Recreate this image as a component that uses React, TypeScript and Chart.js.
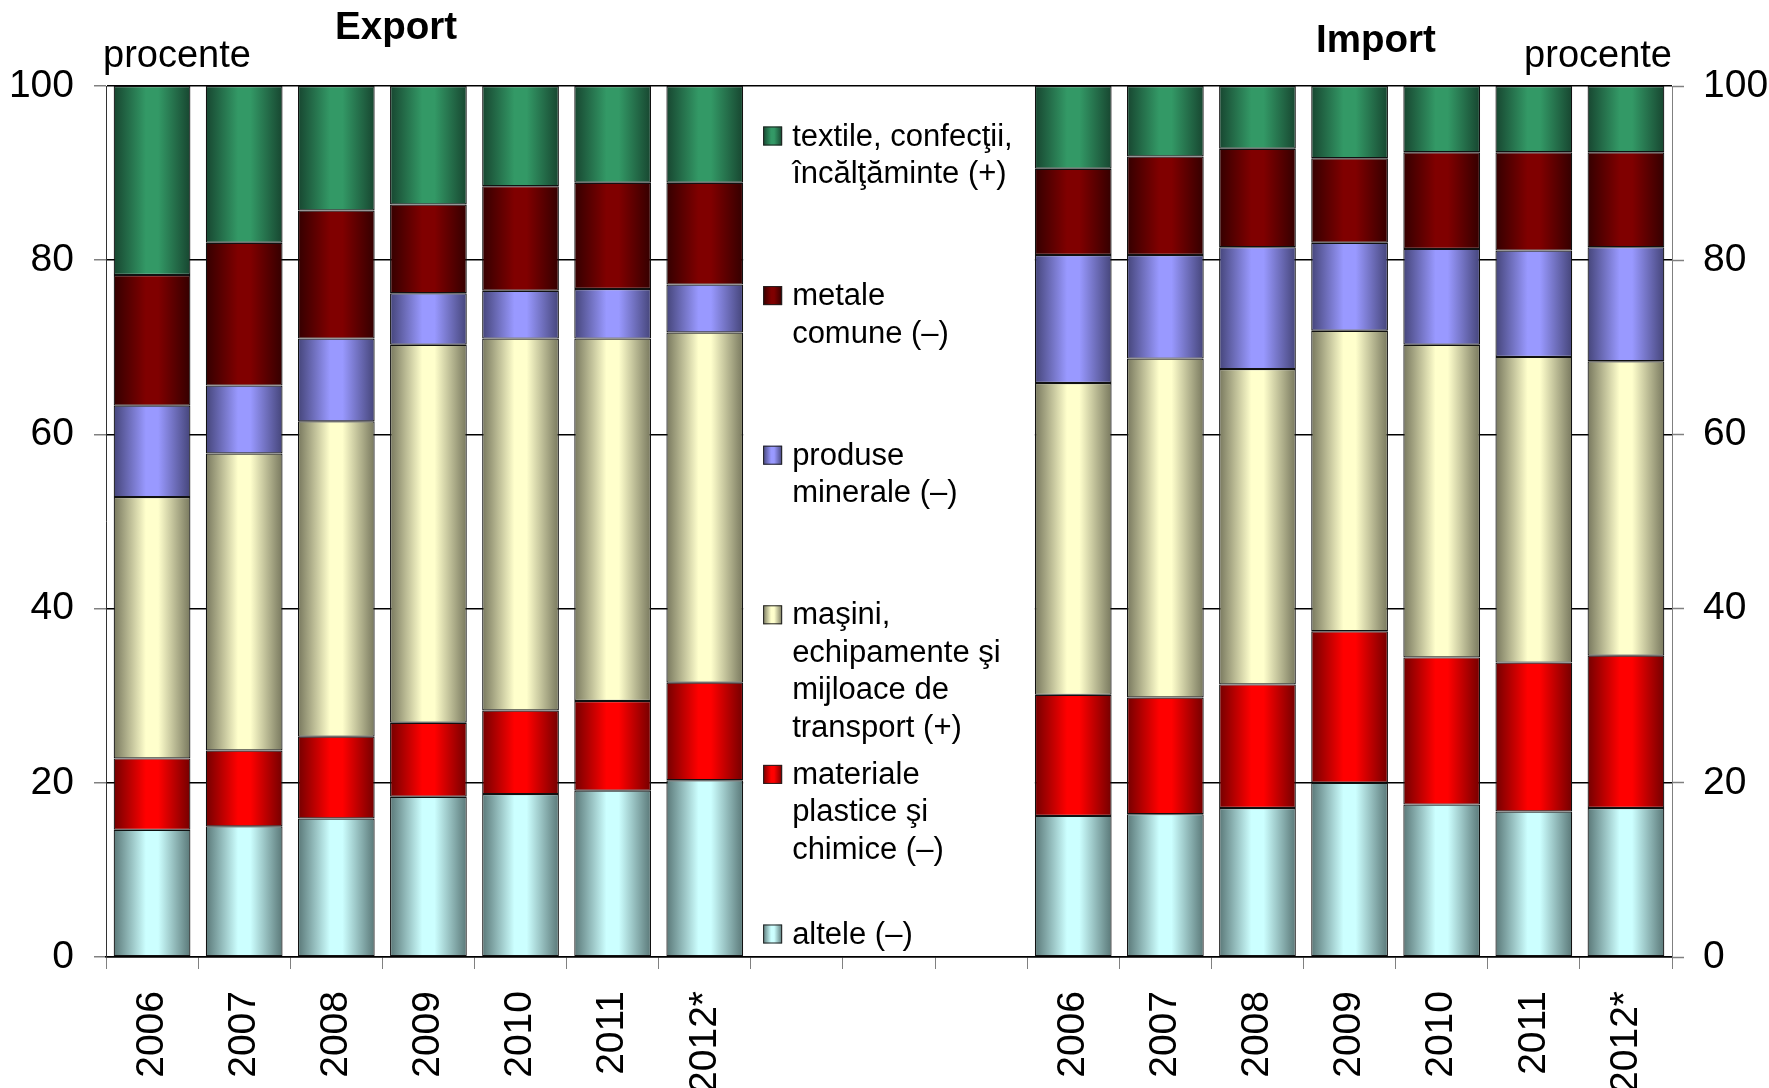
import React, { useEffect, useRef } from 'react';
import { Chart, registerables } from 'chart.js';

Chart.register(...registerables);

// ---- categories ----
const exportYears = ['2006', '2007', '2008', '2009', '2010', '2011', '2012*'];
const gapSlots = ['', '', ''];
const importYears = ['2006', '2007', '2008', '2009', '2010', '2011', '2012*'];

// ---- export shares (%) ----
const exportAltele = [14.6, 15.0, 15.9, 18.4, 18.7, 19.1, 20.3];
const exportPlastice = [8.2, 8.7, 9.4, 8.5, 9.6, 10.3, 11.2];
const exportMasini = [30.0, 34.1, 36.2, 43.4, 42.7, 41.6, 40.2];
const exportMinerale = [10.5, 7.8, 9.5, 5.9, 5.5, 5.7, 5.5];
const exportMetale = [15.0, 16.4, 14.7, 10.2, 12.0, 12.2, 11.7];
const exportTextile = [21.7, 18.0, 14.3, 13.6, 11.5, 11.1, 11.1];

// ---- import shares (%) ----
const importAltele = [16.2, 16.4, 17.1, 20.0, 17.5, 16.7, 17.1];
const importPlastice = [13.9, 13.4, 14.2, 17.4, 16.9, 17.1, 17.5];
const importMasini = [35.8, 38.9, 36.2, 34.5, 35.9, 35.1, 33.8];
const importMinerale = [14.7, 11.9, 14.0, 10.1, 11.0, 12.2, 13.1];
const importMetale = [9.9, 11.3, 11.3, 9.7, 11.1, 11.3, 10.9];
const importTextile = [9.5, 8.1, 7.2, 8.3, 7.6, 7.6, 7.6];

// ---- series names (legend lines) ----
const nameAltele = ['altele (–)'];
const namePlastice = ['materiale', 'plastice şi', 'chimice (–)'];
const nameMasini = ['maşini,', 'echipamente şi', 'mijloace de', 'transport (+)'];
const nameMinerale = ['produse', 'minerale (–)'];
const nameMetale = ['metale', 'comune (–)'];
const nameTextile = ['textile, confecţii,', 'încălţăminte (+)'];

// ---- y ticks ----
const yTicks = [0, 20, 40, 60, 80, 100];

// ---- styles ----
const FONT = "'Liberation Sans', Arial, sans-serif";
const BAR_PCT = 0.833;
const colorsLight = ['#CCFFFF', '#FF0000', '#FFFFCC', '#9999FF', '#800000', '#339966'];
const colorsDark = ['#5A7878', '#740000', '#78785E', '#45457A', '#340000', '#174630'];

const labels = [...exportYears, ...gapSlots, ...importYears];
const gapNulls = gapSlots.map(() => null);

const seriesDefs = [
  { name: nameAltele, exp: exportAltele, imp: importAltele },
  { name: namePlastice, exp: exportPlastice, imp: importPlastice },
  { name: nameMasini, exp: exportMasini, imp: importMasini },
  { name: nameMinerale, exp: exportMinerale, imp: importMinerale },
  { name: nameMetale, exp: exportMetale, imp: importMetale },
  { name: nameTextile, exp: exportTextile, imp: importTextile },
];

function makeGradient(c: CanvasRenderingContext2D, x0: number, x1: number, i: number) {
  const g = c.createLinearGradient(x0, 0, x1, 0);
  g.addColorStop(0, colorsDark[i]);
  g.addColorStop(0.42, colorsLight[i]);
  g.addColorStop(0.58, colorsLight[i]);
  g.addColorStop(1, colorsDark[i]);
  return g;
}

const overlayPlugin = {
  id: 'overlayPlugin',
  beforeDatasetsDraw(chart: any) {
    const { ctx, chartArea, scales } = chart;
    const xs = scales.x;
    const slot = xs.width / labels.length;
    const bw = slot * BAR_PCT;
    const left = xs.getPixelForValue(exportYears.length - 1) + bw / 2;
    const right = xs.getPixelForValue(exportYears.length + gapSlots.length) - bw / 2;
    ctx.save();
    ctx.fillStyle = '#ffffff';
    ctx.fillRect(left, chartArea.top + 1.5, right - left, chartArea.bottom - chartArea.top - 2.5);
    ctx.restore();
  },
  afterDraw(chart: any) {
    const { ctx, chartArea, scales } = chart;
    const xs = scales.x;
    const slot = xs.width / labels.length;
    const bw = slot * BAR_PCT;
    const boxLeft = xs.getPixelForValue(exportYears.length - 1) + bw / 2;
    ctx.save();
    // legend
    const swX = boxLeft + 20;
    const txX = boxLeft + 49;
    const sw = 19;
    const lineH = 37.5;
    ctx.font = `31px ${FONT}`;
    ctx.textAlign = 'left';
    ctx.textBaseline = 'alphabetic';
    const order = [5, 4, 3, 2, 1, 0];
    order.forEach((si, k) => {
      const base = chartArea.top + 59.5 + k * 159.6;
      ctx.fillStyle = makeGradient(ctx, swX, swX + sw, si);
      ctx.fillRect(swX, base - sw, sw, sw);
      ctx.strokeStyle = '#222';
      ctx.lineWidth = 1;
      ctx.strokeRect(swX + 0.5, base - sw + 0.5, sw - 1, sw - 1);
      ctx.fillStyle = '#000';
      seriesDefs[si].name.forEach((ln, j) => {
        ctx.fillText(ln, txX, base + j * lineH);
      });
    });
    // unit labels
    ctx.font = `38px ${FONT}`;
    ctx.fillStyle = '#000';
    ctx.textAlign = 'left';
    ctx.fillText('procente', chartArea.left - 3, 67);
    ctx.textAlign = 'right';
    ctx.fillText('procente', chartArea.right, 67);
    // section titles
    ctx.font = `bold 38.5px ${FONT}`;
    ctx.textAlign = 'center';
    ctx.fillText('Export', 396, 39);
    ctx.fillText('Import', 1376, 52);
    ctx.restore();
  },
};

export default function App() {
  const ref = useRef<HTMLCanvasElement | null>(null);

  useEffect(() => {
    if (!ref.current) return;
    Chart.defaults.font.family = FONT;
    const datasets = seriesDefs.map((s, i) => ({
      label: s.name.join(' '),
      data: [...s.exp, ...gapNulls, ...s.imp],
      borderColor: '#111',
      borderWidth: 1.2,
      borderSkipped: false,
      barPercentage: BAR_PCT,
      categoryPercentage: 1,
      backgroundColor: (c: any) => {
        const chart = c.chart;
        const xs = chart.scales && chart.scales.x;
        if (!xs || !chart.chartArea || c.dataIndex === undefined) return colorsLight[i];
        const cx = xs.getPixelForValue(c.dataIndex);
        const w = (xs.width / labels.length) * BAR_PCT;
        return makeGradient(chart.ctx, cx - w / 2, cx + w / 2, i);
      },
    }));

    const chart = new Chart(ref.current, {
      type: 'bar',
      data: { labels, datasets },
      plugins: [overlayPlugin],
      options: {
        animation: false,
        responsive: false,
        devicePixelRatio: 1,
        events: [],
        layout: { padding: { top: 86, left: 0, right: 0, bottom: 0 } },
        plugins: {
          legend: { display: false },
          title: { display: false },
          tooltip: { enabled: false },
        },
        scales: {
          x: {
            stacked: true,
            offset: true,
            afterFit: (s: any) => { s.height = 131; },
            grid: {
              offset: true,
              drawOnChartArea: false,
              drawTicks: true,
              tickLength: 12,
              tickColor: '#808080',
              tickWidth: 1,
            },
            border: { color: '#000', width: 1.5 },
            ticks: {
              autoSkip: false,
              minRotation: 90,
              maxRotation: 90,
              padding: 22,
              color: '#000',
              font: { size: 39, family: FONT },
            },
          },
          y: {
            stacked: true,
            position: 'left',
            min: 0,
            max: 100,
            afterFit: (s: any) => { s.width = 106; },
            afterBuildTicks: (s: any) => { s.ticks = yTicks.map((v) => ({ value: v })); },
            grid: {
              color: '#000',
              lineWidth: 1.5,
              tickColor: '#808080',
              tickLength: 12,
              tickWidth: 1.5,
            },
            border: { color: '#333', width: 1 },
            ticks: {
              padding: 20,
              color: '#000',
              font: { size: 39, family: FONT },
            },
          },
          y2: {
            position: 'right',
            min: 0,
            max: 100,
            afterFit: (s: any) => { s.width = 97; },
            afterBuildTicks: (s: any) => { s.ticks = yTicks.map((v) => ({ value: v })); },
            grid: {
              drawOnChartArea: false,
              tickColor: '#808080',
              tickLength: 12,
              tickWidth: 1.5,
            },
            border: { color: '#808080', width: 1 },
            ticks: {
              padding: 19,
              color: '#000',
              font: { size: 39, family: FONT },
            },
          },
        },
      } as any,
    });
    return () => chart.destroy();
  }, []);

  return (
    <div style={{ position: 'fixed', left: 0, top: 0, width: 1769, height: 1088, background: '#fff' }}>
      <canvas ref={ref} width={1769} height={1088} style={{ display: 'block' }} />
    </div>
  );
}
